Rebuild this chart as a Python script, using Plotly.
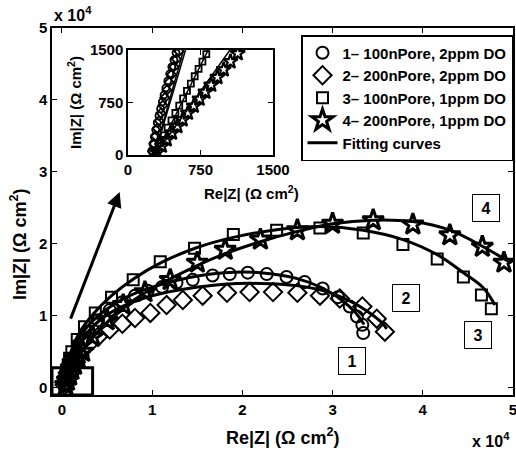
import plotly.graph_objects as go

# ---------------- data (main plot, units of 10^4 ohm cm^2) ----------------
circ_x = [0.03, 0.04, 0.05, 0.06, 0.075, 0.09, 0.18, 0.29, 0.40, 0.53, 0.67, 0.81, 0.95, 1.11, 1.27,
          1.45, 1.67, 1.86, 2.06, 2.27, 2.49, 2.69, 2.89, 3.06, 3.19, 3.27, 3.33, 3.34]
circ_y = [0.06, 0.13, 0.20, 0.27, 0.33, 0.39, 0.60, 0.78, 0.94, 1.08, 1.19, 1.28, 1.35, 1.40, 1.46,
          1.50, 1.56, 1.58, 1.60, 1.58, 1.54, 1.47, 1.38, 1.26, 1.13, 0.99, 0.875, 0.76]

diam_x = [0.03, 0.04, 0.05, 0.065, 0.075, 0.09, 0.18, 0.29, 0.40, 0.53, 0.67, 0.81, 0.98, 1.16, 1.34,
          1.56, 1.83, 2.08, 2.34, 2.61, 2.86, 3.08, 3.33, 3.49, 3.58]
diam_y = [0.04, 0.09, 0.15, 0.21, 0.27, 0.32, 0.46, 0.60, 0.71, 0.81, 0.89, 0.97, 1.04, 1.15, 1.22,
          1.28, 1.32, 1.33, 1.33, 1.32, 1.28, 1.24, 1.13, 0.96, 0.78]

sq_x = [0.03, 0.04, 0.055, 0.07, 0.085, 0.11, 0.17, 0.25, 0.37, 0.55, 0.79, 1.09, 1.47, 1.90, 2.38,
        2.86, 3.34, 3.78, 4.16, 4.45, 4.65, 4.76]
sq_y = [0.06, 0.14, 0.23, 0.32, 0.41, 0.50, 0.67, 0.85, 1.04, 1.26, 1.50, 1.75, 1.94, 2.13, 2.19,
        2.22, 2.15, 1.99, 1.79, 1.54, 1.29, 1.10]

star_x = [0.04, 0.06, 0.085, 0.11, 0.14, 0.18, 0.23, 0.34, 0.50, 0.68, 0.92, 1.20, 1.50, 1.81, 2.20,
          2.61, 3.00, 3.45, 3.89, 4.30, 4.66, 4.90]
star_y = [0.04, 0.10, 0.17, 0.25, 0.32, 0.41, 0.50, 0.71, 0.94, 1.15, 1.33, 1.50, 1.74, 1.92, 2.06,
          2.19, 2.28, 2.33, 2.27, 2.12, 1.96, 1.74]

# fitting curves (main plot)
fit1_x = [0.027, 0.06, 0.12, 0.25, 0.45, 0.70, 1.00, 1.40, 1.80, 2.20, 2.60, 2.90, 3.10, 3.25, 3.35]
fit1_y = [0.00, 0.25, 0.50, 0.80, 1.05, 1.25, 1.40, 1.53, 1.60, 1.60, 1.52, 1.38, 1.22, 1.05, 0.88]
fit2_x = [0.027, 0.06, 0.12, 0.25, 0.45, 0.70, 1.00, 1.40, 1.80, 2.20, 2.60, 2.95, 3.20, 3.40, 3.55, 3.60]
fit2_y = [0.00, 0.22, 0.45, 0.72, 0.97, 1.15, 1.28, 1.38, 1.44, 1.45, 1.42, 1.33, 1.20, 1.05, 0.90, 0.82]
fit3_x = [0.027, 0.05, 0.10, 0.20, 0.35, 0.55, 0.80, 1.10, 1.50, 1.90, 2.40, 2.86, 3.34, 3.78, 4.16,
          4.45, 4.67, 4.80]
fit3_y = [0.00, 0.25, 0.50, 0.78, 1.03, 1.28, 1.52, 1.74, 1.95, 2.09, 2.20, 2.24, 2.19, 2.06, 1.85,
          1.60, 1.39, 1.15]
fit4_x = [0.027, 0.06, 0.12, 0.25, 0.45, 0.70, 1.00, 1.40, 1.80, 2.20, 2.60, 3.00, 3.45, 3.89, 4.30,
          4.67, 4.97]
fit4_y = [0.00, 0.15, 0.32, 0.55, 0.85, 1.13, 1.38, 1.64, 1.86, 2.03, 2.17, 2.28, 2.33, 2.31, 2.19,
          1.96, 1.74]

# ---------------- data (inset, ohm cm^2) ----------------
ins_circ_x = [245, 258, 272, 287, 303, 320, 337, 355, 373, 392, 412, 432, 453, 475, 497]
ins_circ_y = [60, 160, 260, 360, 460, 560, 660, 760, 860, 960, 1060, 1160, 1260, 1360, 1460]
ins_diam_x = [255, 270, 286, 303, 321, 340, 360, 381, 403, 426, 450, 475, 501, 528]
ins_diam_y = [50, 160, 270, 380, 490, 600, 710, 820, 930, 1040, 1150, 1260, 1370, 1480]
ins_sq_x = [290, 330, 370, 410, 450, 490, 530, 570, 610, 650, 690, 730, 770, 810]
ins_sq_y = [60, 170, 280, 390, 495, 600, 705, 810, 915, 1020, 1125, 1230, 1335, 1440]
ins_star_x = [300, 350, 400, 455, 510, 565, 620, 680, 740, 800, 860, 925, 990, 1060, 1135]
ins_star_y = [40, 130, 220, 315, 410, 505, 600, 700, 800, 900, 1000, 1110, 1220, 1335, 1450]

ins_fit1_x = [270, 575]
ins_fit1_y = [0, 1500]
ins_fit2_x = [275, 595]
ins_fit2_y = [0, 1500]
ins_fit3_x = [285, 830]
ins_fit3_y = [0, 1500]
ins_fit4_x = [280, 1055]
ins_fit4_y = [0, 1500]

main_ticks = [0, 1, 2, 3, 4, 5]
main_tick_text = ["0", "1", "2", "3", "4", "5"]
inset_ticks = [0, 750, 1500]
inset_tick_text = ["0", "750", "1500"]

names = ["1\u2013 100nPore, 2ppm DO", "2\u2013 200nPore, 2ppm DO",
         "3\u2013 100nPore, 1ppm DO", "4\u2013 200nPore, 1ppm DO"]
fit_name = "Fitting curves"

# ---------------- layout geometry (pixels) ----------------
W, H = 516, 452
L, R, T, B = 52, 513, 28, 395
FONT = "Liberation Sans"


def pxx(x):
    return (x - L) / (R - L)


def pxy(y):
    return (B - y) / (B - T)


fig = go.Figure()

main_sets = [
    (circ_x, circ_y, "circle-open", 12, 2.0),
    (diam_x, diam_y, "diamond-open", 14, 2.0),
    (sq_x, sq_y, "square-open", 11, 2.0),
    (star_x, star_y, "star-open", 16, 3.0),
]
for (xs, ys, sym, sz, lw), nm in zip(main_sets, names):
    fig.add_trace(go.Scatter(x=xs, y=ys, mode="markers", name=nm,
                             marker=dict(symbol=sym, size=sz, color="black",
                                         line=dict(color="black", width=lw)),
                             xaxis="x", yaxis="y"))

fits = [(fit1_x, fit1_y), (fit2_x, fit2_y), (fit3_x, fit3_y), (fit4_x, fit4_y)]
for i, (xs, ys) in enumerate(fits):
    fig.add_trace(go.Scatter(x=xs, y=ys, mode="lines", name=fit_name,
                             showlegend=(i == 0),
                             line=dict(color="black", width=3, shape="spline", smoothing=1.0),
                             xaxis="x", yaxis="y"))

inset_sets = [
    (ins_circ_x, ins_circ_y, "circle-open", 7, 1.8),
    (ins_diam_x, ins_diam_y, "diamond-open", 7, 1.8),
    (ins_sq_x, ins_sq_y, "square-open", 6, 1.8),
    (ins_star_x, ins_star_y, "star-open", 11, 2.2),
]
for xs, ys, sym, sz, lw in inset_sets:
    fig.add_trace(go.Scatter(x=xs, y=ys, mode="markers", showlegend=False,
                             marker=dict(symbol=sym, size=sz, color="black",
                                         line=dict(color="black", width=lw)),
                             xaxis="x2", yaxis="y2"))
ins_fits = [(ins_fit1_x, ins_fit1_y), (ins_fit2_x, ins_fit2_y),
            (ins_fit3_x, ins_fit3_y), (ins_fit4_x, ins_fit4_y)]
for xs, ys in ins_fits:
    fig.add_trace(go.Scatter(x=xs, y=ys, mode="lines", showlegend=False,
                             line=dict(color="black", width=1.5),
                             xaxis="x2", yaxis="y2"))

axis_common = dict(showline=True, linecolor="black", linewidth=1.5, mirror="ticks",
                   ticks="inside", ticklen=5, tickwidth=1, tickcolor="black",
                   showgrid=False, zeroline=False, automargin=False,
                   ticklabeloverflow="allow",
                   tickfont=dict(family=FONT, size=15, color="black", weight="bold"))

ins_l, ins_r, ins_t, ins_b = 128, 273, 50, 155

fig.update_layout(
    template="none",
    width=W, height=H, autosize=False,
    margin=dict(l=L, r=W - R, t=T, b=H - B, pad=0, autoexpand=False),
    paper_bgcolor="white", plot_bgcolor="white",
    font=dict(family=FONT, size=14, color="black", weight="bold"),
    xaxis=dict(range=[-0.11, 5.0], tickvals=main_ticks, ticktext=main_tick_text,
               domain=[0, 1], anchor="y", **axis_common),
    yaxis=dict(range=[-0.1, 5.0], tickvals=main_ticks, ticktext=main_tick_text,
               domain=[0, 1], anchor="x", **axis_common),
    xaxis2=dict(range=[0, 1500], tickvals=inset_ticks, ticktext=inset_tick_text,
                domain=[pxx(ins_l), pxx(ins_r)], anchor="y2", **axis_common),
    yaxis2=dict(range=[0, 1500], tickvals=inset_ticks, ticktext=inset_tick_text,
                domain=[pxy(ins_b), pxy(ins_t)], anchor="x2", **axis_common),
    legend=dict(x=1.0, xanchor="right", y=pxy(35), yanchor="top",
                bgcolor="white", bordercolor="black", borderwidth=1.5,
                font=dict(family=FONT, size=15, color="black", weight="bold"),
                tracegroupgap=0, itemwidth=30),
    showlegend=True,
)

# zoom box near origin
fig.add_shape(type="rect", xref="x", yref="y", x0=-0.11, x1=0.34, y0=-0.1, y1=0.28,
              line=dict(color="black", width=3))

annots = []
# arrow
annots.append(dict(x=0.64, y=2.72, ax=0.09, ay=0.94, xref="x", yref="y", axref="x", ayref="y",
                   text="", showarrow=True, arrowhead=2, arrowsize=1.0, arrowwidth=3,
                   arrowcolor="black"))
# numbered boxes
for lab, bx, by in [("1", 3.215, 0.375), ("2", 3.814, 1.25), ("3", 4.612, 0.736), ("4", 4.70, 2.50)]:
    annots.append(dict(x=bx, y=by, xref="x", yref="y", text=lab, showarrow=False,
                       font=dict(family=FONT, size=16, color="black", weight="bold"),
                       bordercolor="black", borderwidth=1, borderpad=2, bgcolor="white",
                       width=22, height=22))
# axis titles
annots.append(dict(x=pxx(283), y=pxy(437), xref="paper", yref="paper", showarrow=False,
                   yanchor="middle", text="Re|Z| (\u03a9 cm<sup>2</sup>)",
                   font=dict(family=FONT, size=18, color="black", weight="bold")))
annots.append(dict(x=pxx(18), y=pxy(244), xref="paper", yref="paper", showarrow=False,
                   xanchor="center", yanchor="middle",
                   text="Im|Z| (\u03a9 cm<sup>2</sup>)", textangle=-90,
                   font=dict(family=FONT, size=18, color="black", weight="bold")))
annots.append(dict(x=pxx(202), y=pxy(192), xref="paper", yref="paper", showarrow=False,
                   yanchor="middle", text="Re|Z| (\u03a9 cm<sup>2</sup>)",
                   font=dict(family=FONT, size=15, color="black", weight="bold")))
annots.append(dict(x=pxx(74), y=pxy(103), xref="paper", yref="paper", showarrow=False,
                   xanchor="center", yanchor="middle",
                   text="Im|Z| (\u03a9 cm<sup>2</sup>)", textangle=-90,
                   font=dict(family=FONT, size=15, color="black", weight="bold")))
# exponent labels
annots.append(dict(x=pxx(52), y=pxy(14), xref="paper", yref="paper", showarrow=False,
                   xanchor="left", yanchor="middle", text="x 10<sup>4</sup>",
                   font=dict(family=FONT, size=16, color="black", weight="bold")))
annots.append(dict(x=pxx(512), y=pxy(440), xref="paper", yref="paper", showarrow=False,
                   xanchor="right", yanchor="middle", text="x 10<sup>4</sup>",
                   font=dict(family=FONT, size=16, color="black", weight="bold")))
fig.update_layout(annotations=annots)

fig.write_html("out.html", config={"displayModeBar": False},
               post_script="document.body.style.margin='0px';document.body.style.padding='0px';")
